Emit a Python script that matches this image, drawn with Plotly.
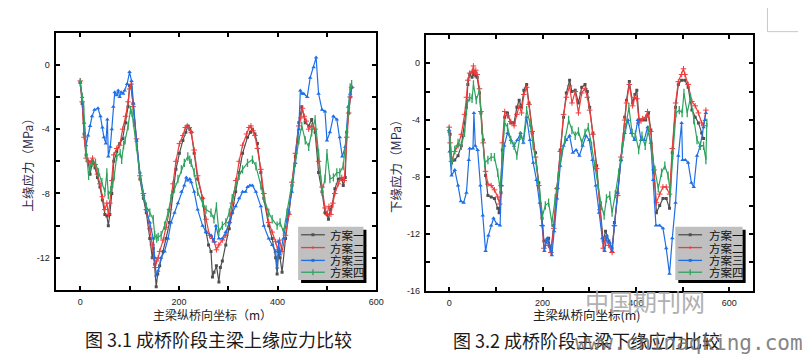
import plotly.graph_objects as go

# ---------------- data: left chart (top-edge stress, MPa) ----------------
top_x1 = [0, 4, 8, 12, 16, 20, 25, 30, 35, 40, 45, 50, 54, 57, 60, 64, 68, 74, 80, 86, 92, 97, 100, 103, 107, 114, 121, 128, 134, 141, 146, 148, 151, 154, 157, 161, 168, 174, 181, 188, 194, 201, 208, 214, 218, 222, 225, 231, 238, 248, 255, 260, 265, 268, 271, 276, 281, 284, 288, 295, 302, 308, 315, 322, 329, 339, 345, 349, 354, 359, 366, 372, 382, 389, 396, 399, 402, 405, 409, 416, 423, 429, 436, 443, 449, 456, 463, 469, 476, 483, 490, 496, 500, 503, 507, 510, 516, 523, 530, 533, 537, 540, 544, 547, 550]
top_y1 = [-1.1, -2.4, -4.3, -5.6, -6.0, -6.8, -6.0, -6.4, -7.0, -7.6, -8.4, -9.3, -9.4, -10.0, -9.3, -8.0, -6.0, -5.4, -4.9, -4.6, -3.6, -2.6, -1.3, -1.4, -2.4, -4.7, -7.1, -8.3, -9.2, -10.8, -12.0, -11.4, -12.4, -13.8, -13.0, -12.5, -11.6, -10.8, -9.8, -7.9, -6.5, -5.5, -4.7, -4.2, -3.8, -4.0, -4.2, -5.5, -7.1, -8.3, -10.4, -11.2, -11.6, -13.2, -12.9, -12.5, -13.5, -12.6, -12.2, -11.2, -10.2, -9.2, -7.9, -6.7, -5.5, -4.5, -4.2, -4.0, -4.3, -4.9, -6.7, -8.3, -10.0, -10.8, -12.0, -13.0, -11.6, -12.0, -12.9, -10.8, -9.2, -7.5, -5.7, -3.6, -2.6, -3.6, -3.8, -3.4, -4.2, -6.7, -7.9, -9.2, -9.3, -9.6, -9.0, -8.8, -7.7, -7.1, -7.1, -7.5, -7.0, -4.2, -3.0, -2.0, -1.4]

top_x2 = [0, 4, 8, 12, 16, 20, 25, 30, 35, 40, 45, 50, 54, 57, 60, 64, 68, 74, 80, 86, 92, 97, 100, 103, 107, 114, 121, 128, 134, 141, 146, 149, 152, 155, 158, 161, 168, 174, 181, 188, 194, 201, 208, 213, 217, 221, 225, 231, 238, 248, 255, 262, 268, 272, 276, 281, 288, 295, 302, 308, 315, 322, 329, 337, 342, 346, 350, 354, 359, 366, 372, 382, 389, 396, 400, 404, 409, 416, 423, 429, 436, 443, 447, 450, 454, 458, 463, 469, 476, 483, 490, 496, 500, 504, 508, 512, 516, 523, 530, 535, 540, 544, 547, 550]
top_y2 = [-1.0, -2.3, -4.5, -5.8, -6.0, -6.1, -5.8, -6.2, -6.8, -7.4, -8.2, -9.0, -8.6, -9.3, -8.6, -7.2, -5.6, -5.2, -5.0, -4.0, -3.2, -2.3, -1.5, -1.2, -2.6, -4.6, -6.9, -8.0, -9.0, -10.2, -11.2, -12.0, -12.6, -12.2, -12.0, -11.6, -10.9, -10.1, -9.0, -7.4, -6.0, -4.9, -4.4, -3.9, -3.8, -3.9, -4.2, -5.3, -6.9, -8.3, -9.6, -10.6, -10.8, -11.0, -11.5, -11.2, -10.9, -10.6, -9.8, -8.6, -7.2, -6.0, -5.0, -4.3, -3.9, -3.8, -4.1, -4.4, -5.2, -6.5, -8.0, -9.8, -10.4, -11.0, -11.5, -10.9, -11.6, -10.6, -9.3, -7.3, -5.5, -3.8, -3.3, -2.7, -3.2, -3.5, -4.0, -3.8, -4.0, -6.0, -7.6, -8.9, -9.3, -8.8, -9.3, -8.6, -8.0, -7.4, -7.0, -7.2, -4.5, -3.0, -2.0, -1.4]

top_x3 = [0, 4, 8, 12, 16, 20, 24, 29, 36, 41, 45, 48, 52, 55, 57, 61, 64, 67, 70, 74, 77, 80, 83, 87, 90, 95, 100, 104, 108, 114, 121, 128, 134, 141, 148, 151, 154, 158, 164, 171, 178, 184, 191, 198, 205, 211, 215, 218, 222, 225, 231, 238, 248, 255, 265, 271, 275, 281, 288, 295, 302, 308, 315, 322, 329, 335, 339, 344, 349, 356, 366, 372, 382, 389, 396, 399, 402, 405, 412, 419, 429, 436, 443, 446, 450, 453, 460, 466, 473, 478, 483, 490, 496, 500, 506, 513, 520, 526, 531, 537, 543, 547, 550]
top_y3 = [-1.1, -2.0, -3.6, -5.0, -4.4, -3.8, -3.2, -2.8, -2.7, -3.2, -3.9, -4.5, -4.9, -3.4, -5.7, -5.1, -4.0, -2.6, -1.7, -1.9, -1.6, -2.0, -1.7, -1.8, -1.6, -1.2, -0.45, -1.0, -2.4, -4.7, -6.7, -8.1, -9.0, -9.8, -10.8, -12.0, -13.1, -12.8, -12.0, -11.6, -10.8, -9.8, -9.2, -8.6, -7.9, -7.5, -7.0, -7.2, -7.1, -7.3, -7.9, -9.0, -10.0, -10.4, -10.6, -11.0, -10.0, -10.8, -10.8, -10.4, -9.8, -9.2, -8.8, -8.3, -7.9, -7.9, -7.6, -7.5, -7.5, -7.9, -8.8, -10.0, -10.8, -11.2, -11.6, -12.6, -11.0, -11.8, -10.8, -9.6, -7.9, -6.1, -4.0, -1.6, -1.8, -1.8, -2.0, -0.8, -0.15, 0.45, -1.8, -2.8, -2.9, -4.7, -4.2, -3.2, -3.4, -4.5, -5.7, -5.1, -2.6, -1.8, -1.4]

top_x4 = [0, 4, 7, 12, 17, 20, 24, 31, 37, 44, 50, 54, 57, 62, 66, 69, 74, 81, 84, 88, 91, 97, 102, 105, 108, 114, 121, 128, 134, 141, 148, 151, 155, 158, 164, 171, 178, 184, 191, 198, 205, 211, 218, 222, 225, 231, 238, 248, 255, 265, 271, 276, 281, 288, 295, 302, 308, 315, 322, 329, 339, 349, 356, 366, 372, 382, 389, 399, 405, 412, 419, 429, 436, 443, 449, 456, 463, 469, 476, 483, 490, 496, 500, 506, 513, 520, 526, 533, 540, 547, 550]
top_y4 = [-1.1, -2.0, -2.6, -5.3, -6.9, -6.4, -6.1, -6.1, -6.7, -7.3, -7.9, -6.7, -8.1, -7.8, -7.4, -6.9, -5.7, -5.5, -5.9, -5.0, -4.7, -3.8, -2.8, -3.0, -3.6, -5.1, -6.9, -8.1, -8.8, -9.2, -9.6, -10.6, -10.8, -10.7, -10.6, -10.0, -9.2, -8.3, -7.7, -7.1, -6.5, -6.1, -5.7, -5.9, -6.1, -6.7, -7.9, -8.6, -9.0, -9.2, -9.6, -8.8, -10.4, -10.0, -9.8, -9.2, -8.3, -7.5, -6.9, -6.5, -6.1, -5.9, -6.3, -7.5, -8.3, -9.2, -9.6, -10.0, -9.8, -10.4, -9.2, -7.5, -6.1, -4.7, -3.8, -4.7, -5.1, -4.2, -3.4, -5.5, -7.9, -7.1, -5.5, -7.1, -7.0, -6.7, -6.7, -6.3, -4.2, -1.4, -1.2]

# ---------------- data: right chart (bottom-edge stress, MPa) ----------------
bot_x1 = [0, 2, 5, 12, 19, 26, 33, 37, 40, 44, 49, 52, 54, 57, 60, 65, 68, 73, 78, 83, 90, 97, 104, 107, 111, 114, 119, 125, 132, 139, 145, 150, 155, 160, 166, 171, 178, 185, 192, 199, 203, 208, 213, 218, 224, 231, 238, 245, 251, 258, 263, 270, 277, 284, 291, 296, 301, 308, 316, 323, 330, 335, 342, 349, 354, 361, 368, 376, 380, 386, 393, 398, 402, 407, 414, 421, 427, 432, 439, 444, 451, 458, 465, 472, 478, 485, 491, 498, 505, 512, 520, 527, 534, 541, 545]
bot_y1 = [-4.8, -5.0, -7.0, -6.8, -6.5, -5.8, -4.2, -3.1, -1.5, -0.8, -1.0, -0.6, -0.8, -0.9, -1.0, -2.1, -3.5, -5.4, -7.9, -9.3, -9.4, -9.5, -10.2, -10.5, -9.1, -6.1, -3.8, -3.5, -4.2, -4.2, -3.1, -2.6, -3.1, -1.9, -1.5, -2.8, -4.9, -6.3, -8.4, -10.9, -12.5, -12.5, -12.3, -13.2, -11.4, -8.8, -6.1, -3.8, -2.1, -1.2, -2.0, -1.9, -2.8, -1.7, -1.5, -2.0, -3.1, -4.9, -7.2, -10.0, -12.5, -11.8, -12.5, -13.0, -11.2, -9.1, -6.8, -3.8, -2.6, -1.3, -2.8, -2.2, -1.9, -4.0, -4.0, -4.0, -3.5, -4.7, -7.7, -10.5, -10.0, -9.5, -9.5, -10.2, -6.3, -3.1, -1.5, -1.2, -1.2, -1.7, -3.3, -3.8, -4.2, -4.9, -5.3]

bot_x2 = [0, 2, 5, 12, 19, 26, 33, 37, 40, 44, 49, 52, 54, 57, 60, 65, 68, 73, 78, 83, 90, 97, 104, 108, 111, 114, 119, 125, 132, 139, 145, 150, 155, 160, 166, 171, 178, 185, 192, 199, 203, 208, 213, 218, 224, 231, 238, 245, 251, 258, 263, 270, 277, 284, 291, 296, 301, 308, 316, 323, 330, 335, 342, 349, 354, 361, 368, 376, 380, 386, 393, 398, 402, 407, 414, 421, 425, 432, 439, 444, 451, 458, 465, 472, 478, 485, 491, 498, 502, 505, 512, 520, 527, 534, 541, 545, 550]
bot_y2 = [-4.5, -5.6, -6.9, -6.2, -5.8, -5.0, -3.6, -2.4, -1.2, -0.7, -0.6, -0.2, -0.7, -0.5, -0.8, -1.8, -3.4, -5.6, -7.6, -8.5, -8.6, -8.9, -9.4, -9.9, -8.6, -5.6, -3.4, -3.7, -4.1, -4.4, -3.6, -3.0, -3.5, -2.2, -1.7, -2.9, -4.8, -6.6, -8.6, -11.4, -13.0, -12.5, -12.8, -13.3, -11.6, -8.8, -6.2, -3.6, -2.4, -1.6, -2.8, -2.0, -3.5, -2.1, -1.8, -2.4, -3.3, -5.0, -7.4, -10.3, -13.0, -12.3, -12.8, -13.3, -11.4, -9.3, -6.6, -4.0, -2.8, -1.5, -3.0, -2.4, -2.5, -4.2, -3.9, -3.8, -3.4, -4.8, -7.5, -9.8, -9.2, -8.7, -8.7, -9.2, -6.0, -2.8, -1.3, -0.8, -0.4, -0.8, -1.5, -2.7, -3.0, -3.5, -4.2, -4.4, -3.3]

bot_x3 = [0, 1, 5, 12, 19, 25, 31, 37, 42, 44, 51, 53, 56, 61, 67, 72, 78, 84, 90, 95, 102, 109, 112, 118, 125, 132, 139, 146, 153, 159, 166, 173, 180, 187, 194, 200, 204, 210, 215, 220, 225, 231, 238, 245, 251, 258, 265, 272, 279, 286, 293, 300, 307, 314, 321, 328, 333, 338, 344, 349, 354, 361, 368, 376, 383, 390, 397, 404, 411, 418, 425, 432, 437, 443, 451, 458, 465, 472, 478, 485, 491, 498, 500, 506, 512, 519, 524, 531, 538, 545, 548, 550]
bot_y3 = [-4.7, -6.2, -7.9, -7.5, -8.6, -9.7, -9.8, -9.1, -6.8, -6.0, -6.0, -3.5, -5.8, -6.1, -8.6, -10.7, -13.2, -12.1, -11.4, -10.9, -11.3, -11.4, -8.6, -5.8, -4.9, -5.4, -5.8, -5.4, -4.9, -5.6, -3.8, -5.4, -7.0, -8.2, -9.8, -11.4, -13.2, -12.3, -12.8, -13.5, -11.8, -9.5, -7.2, -5.8, -5.4, -5.1, -6.3, -6.1, -6.5, -5.8, -5.1, -5.4, -6.8, -8.6, -10.5, -12.3, -13.2, -12.1, -12.6, -13.2, -11.4, -9.1, -6.8, -4.9, -4.0, -4.9, -5.4, -4.0, -5.4, -5.4, -4.5, -5.6, -8.2, -11.4, -11.4, -11.6, -13.0, -14.8, -12.3, -9.8, -6.5, -4.2, -6.8, -6.8, -7.0, -8.4, -8.7, -6.5, -5.8, -4.5, -4.0, -3.5]

bot_x4 = [0, 2, 5, 12, 19, 26, 33, 39, 44, 49, 52, 58, 65, 70, 76, 83, 90, 97, 104, 109, 114, 119, 125, 132, 139, 145, 152, 159, 166, 173, 180, 187, 194, 200, 206, 213, 220, 227, 234, 241, 248, 256, 263, 270, 277, 284, 291, 298, 305, 312, 319, 326, 332, 337, 344, 349, 356, 363, 371, 378, 385, 392, 399, 406, 413, 420, 427, 434, 441, 448, 455, 462, 469, 474, 479, 486, 493, 499, 503, 510, 517, 524, 531, 538, 545, 550, 552]
bot_y4 = [-4.7, -5.5, -7.2, -6.1, -5.6, -5.8, -4.9, -2.8, -2.4, -2.5, -1.5, -2.6, -1.9, -4.7, -7.0, -6.8, -6.6, -6.6, -7.7, -8.8, -6.1, -4.2, -4.5, -5.4, -5.8, -6.5, -5.1, -5.4, -3.3, -4.2, -5.8, -7.2, -9.1, -10.7, -10.0, -9.8, -11.2, -9.5, -7.9, -6.3, -5.4, -4.0, -4.7, -5.1, -4.8, -5.6, -4.9, -4.5, -5.8, -7.2, -8.6, -10.0, -10.7, -9.5, -9.3, -10.5, -9.2, -7.7, -5.8, -4.5, -3.1, -4.9, -5.0, -6.1, -5.1, -5.8, -4.7, -6.3, -7.5, -8.8, -7.7, -7.2, -7.9, -9.1, -6.5, -3.5, -3.3, -3.5, -2.1, -3.5, -2.4, -4.0, -5.4, -5.8, -5.8, -6.8, -4.2]

series_names = ["方案一", "方案二", "方案三", "方案四"]
x_ticks = [0, 200, 400, 600]
x_minor = [100, 300, 500]
y_ticks_top = [0, -4, -8, -12]
y_minor_top = [-10, -6, -2]
y_ticks_bot = [0, -4, -8, -12, -16]
y_minor_bot = [-14, -10, -6, -2]

# ---------------- styles ----------------
W, H = 810, 355
colors = ["#4f4f4f", "#ee3b3b", "#1e6fe6", "#2ea35f"]
markers = [
    dict(symbol="square", size=3),
    dict(symbol="cross-thin", size=4, line=dict(width=1)),
    dict(symbol="triangle-up", size=4),
    dict(symbol="line-ns", size=6, line=dict(width=1.3)),
]

def PX(px):
    return px / W

def PY(py):
    return 1 - py / H

fig = go.Figure()

top_data = [(top_x1, top_y1), (top_x2, top_y2), (top_x3, top_y3), (top_x4, top_y4)]
bot_data = [(bot_x1, bot_y1), (bot_x2, bot_y2), (bot_x3, bot_y3), (bot_x4, bot_y4)]

for axes, data in ((("x", "y"), top_data), (("x2", "y2"), bot_data)):
    for i, (xs, ys) in enumerate(data):
        m = dict(markers[i])
        m["color"] = colors[i]
        if "line" in m:
            m["line"] = dict(m["line"], color=colors[i])
        fig.add_trace(go.Scatter(
            x=xs, y=ys, mode="lines+markers", name=series_names[i],
            line=dict(color=colors[i], width=1.2), marker=m,
            xaxis=axes[0], yaxis=axes[1], showlegend=False,
            hoverinfo="skip"))

def axis_common(tickvals, minor_vals, rng, domain, anchor):
    return dict(
        domain=domain, range=rng, anchor=anchor,
        tickvals=tickvals, ticktext=[str(v) for v in tickvals],
        ticks="inside", ticklen=4, tickwidth=1.5, tickcolor="black",
        minor=dict(tickvals=minor_vals, ticks="inside", ticklen=4, tickwidth=1.5, tickcolor="black"),
        showline=True, linewidth=2, linecolor="black", mirror="allticks",
        showgrid=False, zeroline=False,
        tickfont=dict(family="Liberation Sans, Arial", size=9, color="#222222"),
        ticklabelstandoff=2,
    )

fig.update_layout(
    width=W, height=H, autosize=False,
    margin=dict(l=0, r=0, t=0, b=0),
    paper_bgcolor="white", plot_bgcolor="white",
    showlegend=False,
    xaxis=axis_common(x_ticks, x_minor, [-50, 600], [PX(48), PX(372)], "y"),
    yaxis=axis_common(y_ticks_top, y_minor_top, [-14, 2], [PY(286), PY(25)], "x"),
    xaxis2=axis_common(x_ticks, x_minor, [-50, 650], [PX(422), PX(752)], "y2"),
    yaxis2=axis_common(y_ticks_bot, y_minor_bot, [-16, 2], [PY(287), PY(27)], "x2"),
)

shapes = []
annotations = []
cjk = "Noto Sans CJK SC"

def add_legend(x0, x1, y0, y1, lx0, lx1, tx, rows):
    shapes.append(dict(type="rect", xref="paper", yref="paper", layer="above",
                       x0=PX(x0 + 3), x1=PX(x1 + 3), y0=PY(y0 + 3), y1=PY(y1 + 3),
                       fillcolor="black", line=dict(width=0)))
    shapes.append(dict(type="rect", xref="paper", yref="paper", layer="above",
                       x0=PX(x0), x1=PX(x1), y0=PY(y0), y1=PY(y1),
                       fillcolor="#c0c0c0", line=dict(width=0)))
    for i, ry in enumerate(rows):
        c = colors[i]
        shapes.append(dict(type="line", xref="paper", yref="paper", layer="above",
                           x0=PX(lx0), x1=PX(lx1), y0=PY(ry), y1=PY(ry),
                           line=dict(color=c, width=1.3)))
        cx = (lx0 + lx1) / 2
        if i in (0, 2):
            shapes.append(dict(type="rect", xref="paper", yref="paper", layer="above",
                               x0=PX(cx - 1.5), x1=PX(cx + 1.5), y0=PY(ry - 1.5), y1=PY(ry + 1.5),
                               fillcolor=c, line=dict(width=0)))
        elif i == 1:
            shapes.append(dict(type="line", xref="paper", yref="paper", layer="above",
                               x0=PX(cx), x1=PX(cx), y0=PY(ry - 1.5), y1=PY(ry + 1.5),
                               line=dict(color=c, width=1)))
        else:
            shapes.append(dict(type="line", xref="paper", yref="paper", layer="above",
                               x0=PX(cx), x1=PX(cx), y0=PY(ry - 3), y1=PY(ry + 3),
                               line=dict(color=c, width=1.3)))
        annotations.append(dict(xref="paper", yref="paper", x=PX(tx), y=PY(ry),
                                xanchor="left", yanchor="middle", showarrow=False,
                                text=series_names[i],
                                font=dict(family=cjk, size=11.5, color="#111111")))

add_legend(293, 359, 222, 276, 296, 320, 323, [230, 243, 256, 268])
add_legend(674, 742, 222, 276, 677, 701, 706, [230, 243, 256, 268])

def text(x, y, s, size, color="#222222", family=cjk, angle=0, xanchor="center", opacity=1.0):
    annotations.append(dict(xref="paper", yref="paper", x=PX(x), y=PY(y), text=s,
                            xanchor=xanchor, yanchor="middle", showarrow=False,
                            textangle=angle, opacity=opacity,
                            font=dict(family=family, size=size, color=color)))

# axis titles
text(20, 156, "上缘应力（MPa）", 12.5, color="#2a2a4a", angle=-90)
text(392, 157, "下缘应力（MPa）", 12.5, color="#2a2a4a", angle=-90)
text(207, 311, "主梁纵桥向坐标（m）", 12)
text(585, 311, "主梁纵桥向坐标(m)", 12.5)
# captions
text(213, 336, "图 3.1 成桥阶段主梁上缘应力比较", 18, color="#1a1a1a")
text(584, 337, "图 3.2 成桥阶段主梁下缘应力比较", 18, color="#1a1a1a")
# watermark
text(643, 297, "中国期刊网", 24, color="#a8a8a8", opacity=0.9)
text(571, 340, "www.chinaqking.com", 21, color="#707070", family="DejaVu Sans Mono", xanchor="left", opacity=0.85)

# corner mark
shapes.append(dict(type="line", xref="paper", yref="paper", x0=PX(767), x1=PX(767), y0=PY(0), y1=PY(24),
                   line=dict(color="#c8c8c8", width=1)))
shapes.append(dict(type="line", xref="paper", yref="paper", x0=PX(767), x1=PX(798), y0=PY(24), y1=PY(24),
                   line=dict(color="#c8c8c8", width=1)))

fig.update_layout(shapes=shapes, annotations=annotations)
fig.write_html("out.html")
